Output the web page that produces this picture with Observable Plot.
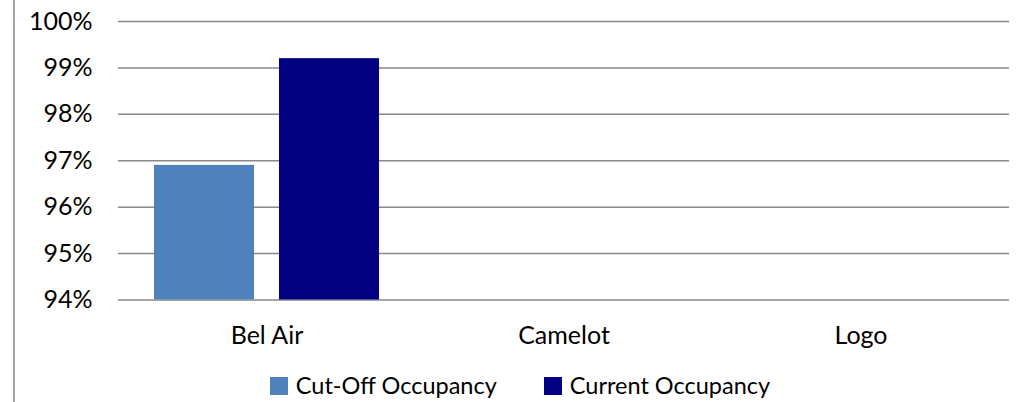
<!DOCTYPE html>
<html><head><meta charset="utf-8">
<script src="https://cdn.jsdelivr.net/npm/d3@7"></script>
<script src="https://cdn.jsdelivr.net/npm/@observablehq/plot@0.6"></script>
<style>
body{margin:0;background:#fff;}
#wrap{position:relative;width:1019px;height:402px;overflow:hidden;font-family:Lato,"Open Sans",sans-serif;color:#000;}
#edge{position:absolute;left:13px;top:0;width:2px;height:402px;background:#a6a6a6;}
#legend{display:flex;justify-content:center;align-items:center;height:40px;padding-top:6px;padding-left:21px;font-size:23.5px;line-height:1;}
#legend .item{display:flex;align-items:center;margin:0 23.5px;}
#legend .sw{width:18px;height:18px;margin-right:8px;}
</style></head>
<body>
<div id="wrap"><div id="edge"></div><div id="chart"></div><div id="legend"></div></div>
<script>
const sites = ["Bel Air", "Camelot", "Logo"];
const series = ["Cut-Off Occupancy", "Current Occupancy"];
const cutOff = [0.969, null, null];
const current = [0.992, null, null];
const colors = ["#4F81BD", "#000080"];
const yDomain = [0.94, 1.00];
const yTicks = [0.94, 0.95, 0.96, 0.97, 0.98, 0.99, 1.00];

const values = [cutOff, current];
const data = [];
sites.forEach((s, i) => series.forEach((k, j) => {
  data.push({site: s, series: k, value: values[j][i]});
}));

const chart = Plot.plot({
  width: 1019,
  height: 360,
  marginLeft: 117,
  marginRight: 9,
  marginTop: 21,
  marginBottom: 60.5,
  style: {fontFamily: "Lato, 'Open Sans', sans-serif", fontSize: "25px", color: "#000", background: "transparent"},
  fx: {domain: sites, padding: 0, label: null, axis: "bottom", tickSize: 0, tickPadding: 26},
  x: {domain: series, paddingInner: 0.2, paddingOuter: 0.28, axis: null},
  y: {domain: yDomain, ticks: yTicks, tickFormat: d3.format(".0%"), tickSize: 0, tickPadding: 26, label: null},
  color: {domain: series, range: colors},
  facet: {data: data, x: "site"},
  marks: [
    Plot.ruleY(yTicks, {stroke: "#888", strokeWidth: 1.5}),
    Plot.barY(data, {fx: "site", x: "series", y1: yDomain[0], y2: "value", fill: "series"})
  ]
});
document.getElementById("chart").appendChild(chart);

const legend = d3.select("#legend");
series.forEach((s, i) => {
  const it = legend.append("div").attr("class", "item");
  it.append("div").attr("class", "sw").style("background", colors[i]);
  it.append("span").text(s);
});
</script>
</body></html>
